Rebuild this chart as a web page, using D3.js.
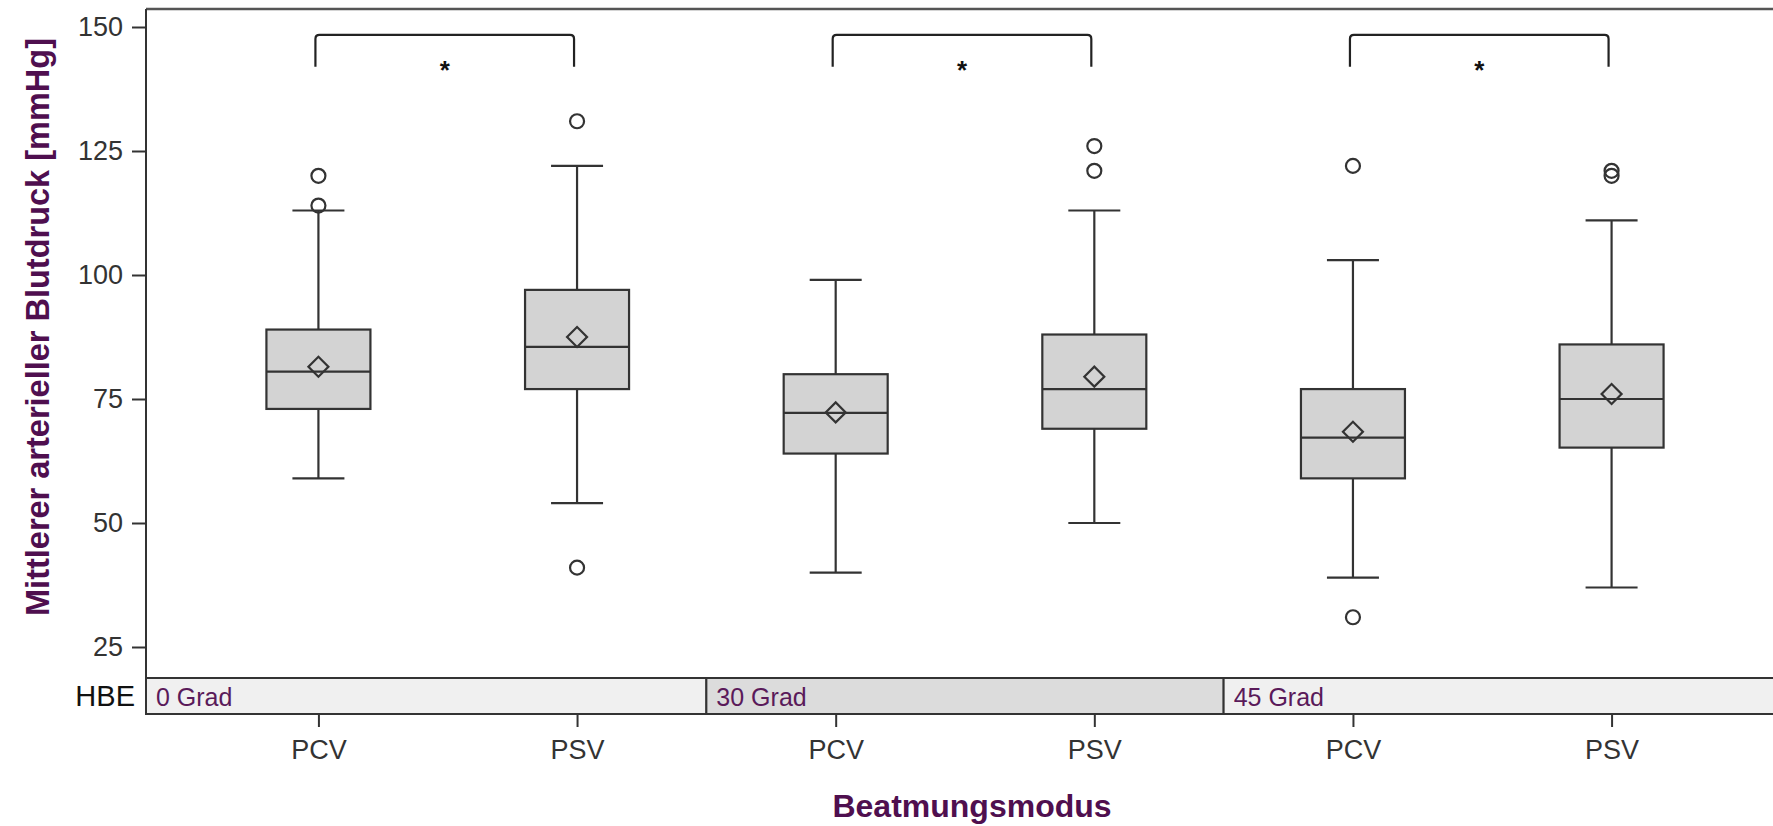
<!DOCTYPE html>
<html>
<head>
<meta charset="utf-8">
<script src="https://cdn.jsdelivr.net/npm/d3@7"></script>
<style>
  body{margin:0;background:#fff;}
  svg{display:block;font-family:"Liberation Sans",Arial,sans-serif;}
</style>
</head>
<body>
<div class="box-chart-container"></div>
<script>
//Data
const categories = ['PCV0','PSV0','PCV30','PSV30','PCV45','PSV45'];
const modeLabels = ['PCV','PSV','PCV','PSV','PCV','PSV'];
const hbeGroups = ['0 Grad','30 Grad','45 Grad'];
const hbeOfCategory = ['0 Grad','0 Grad','30 Grad','30 Grad','45 Grad','45 Grad'];
const whiskerLow  = [59, 54, 40, 50, 39, 37];
const q1          = [73, 77, 64, 69, 59, 65.2];
const median      = [80.5, 85.5, 72.2, 77, 67.2, 75];
const q3          = [89, 97, 80, 88, 77, 86];
const whiskerHigh = [113, 122, 99, 113, 103, 111];
const means       = [81.5, 87.5, 72.3, 79.5, 68.4, 76];
const outliers    = [[120,114],[131,41],[],[126,121],[122,31],[121,120]];
const yTicks      = [25, 50, 75, 100, 125, 150];
// significance brackets between PCV and PSV of each HBE group
const brackets    = [['PCV0','PSV0'],['PCV30','PSV30'],['PCV45','PSV45']];
const bracketTop = 148.4, bracketLeg = 142, starValue = 142.3;

function setupCanvas(){
  const svg_width = 1773;
  const svg_height = 826;
  const plot = {left:146, right:1784, top:9, bottom:678};
  const strip = {top:678, bottom:714};
  const purple = '#4f0f4f';
  const ink = '#333';

  const svg = d3.select('.box-chart-container').append('svg')
    .attr('width', svg_width).attr('height', svg_height);

  const xScale = d3.scalePoint().domain(categories)
    .range([plot.left, plot.right]).padding(2/3);
  const yScale = d3.scaleLinear().domain([25,150]).range([647,27]);
  const boxW = 104, capW = 52;

  // HBE strip
  const groupEdges = hbeGroups.map(g => {
    const cs = categories.filter((c,i) => hbeOfCategory[i] == g);
    const step = xScale.step();
    return {g, x0: xScale(cs[0]) - step/2, x1: xScale(cs[cs.length-1]) + step/2};
  });
  groupEdges[0].x0 = plot.left;
  groupEdges[groupEdges.length-1].x1 = plot.right;

  svg.selectAll('.strip').data(groupEdges).enter().append('rect')
    .attr('class','strip')
    .attr('x', d => d.x0).attr('y', strip.top)
    .attr('width', d => d.x1 - d.x0).attr('height', strip.bottom - strip.top)
    .style('fill', (d,i) => i == 1 ? '#dcdcdc' : '#f0f0f0')
    .style('stroke', ink).style('stroke-width', 2);
  svg.selectAll('.strip-label').data(groupEdges).enter().append('text')
    .attr('class','strip-label')
    .attr('x', d => d.x0 + 10).attr('y', strip.bottom - 8)
    .text(d => d.g)
    .style('font-size','25px').style('fill','#5a1a5a');
  svg.append('text').attr('x', 135).attr('y', strip.bottom - 8)
    .attr('text-anchor','end').text('HBE')
    .style('font-size','29px').style('fill','#111');

  // frame
  svg.append('line').attr('x1', plot.left).attr('x2', plot.right)
    .attr('y1', plot.top).attr('y2', plot.top)
    .style('stroke','#555').style('stroke-width',2.5);
  svg.append('line').attr('x1', plot.left).attr('x2', plot.left)
    .attr('y1', plot.top).attr('y2', strip.bottom)
    .style('stroke',ink).style('stroke-width',2);

  // y axis
  const yAxis = d3.axisLeft(yScale).tickValues(yTicks).tickSize(14).tickPadding(9);
  const yAxisDraw = svg.append('g').attr('class','yaxis')
    .attr('transform',`translate(${plot.left},0)`).call(yAxis);
  yAxisDraw.select('.domain').remove();
  yAxisDraw.selectAll('line').style('stroke',ink).style('stroke-width',2);
  yAxisDraw.selectAll('text').style('font-size','27px').style('fill',ink)
    .style('font-family','"Liberation Sans",Arial,sans-serif');

  // x axis below strip
  const xAxis = d3.axisBottom(xScale).tickSize(13).tickPadding(13)
    .tickFormat((d,i) => modeLabels[i]);
  const xAxisDraw = svg.append('g').attr('class','xaxis')
    .attr('transform',`translate(0,${strip.bottom})`).call(xAxis);
  xAxisDraw.select('.domain').remove();
  xAxisDraw.selectAll('line').style('stroke',ink).style('stroke-width',2);
  xAxisDraw.selectAll('text').style('font-size','27px').style('fill',ink)
    .style('font-family','"Liberation Sans",Arial,sans-serif');

  // axis titles
  svg.append('text')
    .attr('transform','translate(49,327) rotate(-90)')
    .attr('text-anchor','middle')
    .text('Mittlerer arterieller Blutdruck [mmHg]')
    .style('font-size','32.5px').style('font-weight','bold').style('fill',purple);
  svg.append('text').attr('x', 972).attr('y', 817)
    .attr('text-anchor','middle').text('Beatmungsmodus')
    .style('font-size','32px').style('font-weight','bold').style('fill',purple);

  // boxes
  const boxData = categories.map((c,i) => ({
    c, lo: whiskerLow[i], q1: q1[i], med: median[i], q3: q3[i],
    hi: whiskerHigh[i], mean: means[i], out: outliers[i]
  }));
  const boxes = svg.selectAll('.box').data(boxData).enter()
    .append('g').attr('class','box')
    .attr('transform', d => `translate(${xScale(d.c)},0)`);

  boxes.append('line').attr('x1',0).attr('x2',0)
    .attr('y1', d => yScale(d.hi)).attr('y2', d => yScale(d.q3));
  boxes.append('line').attr('x1',0).attr('x2',0)
    .attr('y1', d => yScale(d.q1)).attr('y2', d => yScale(d.lo));
  boxes.append('line').attr('x1',-capW/2).attr('x2',capW/2)
    .attr('y1', d => yScale(d.hi)).attr('y2', d => yScale(d.hi));
  boxes.append('line').attr('x1',-capW/2).attr('x2',capW/2)
    .attr('y1', d => yScale(d.lo)).attr('y2', d => yScale(d.lo));
  boxes.append('rect').attr('x',-boxW/2).attr('width',boxW)
    .attr('y', d => yScale(d.q3)).attr('height', d => yScale(d.q1) - yScale(d.q3))
    .style('fill','#d3d3d3');
  boxes.append('line').attr('x1',-boxW/2).attr('x2',boxW/2)
    .attr('y1', d => yScale(d.med)).attr('y2', d => yScale(d.med));
  boxes.append('path')
    .attr('d', d3.symbol(d3.symbolSquare, 200))
    .attr('transform', d => `translate(0,${yScale(d.mean)}) rotate(45)`)
    .style('fill','none');
  boxes.selectAll('.outlier').data(d => d.out).enter()
    .append('circle').attr('class','outlier')
    .attr('cx',0).attr('cy', v => yScale(v)).attr('r',7)
    .style('fill','none');
  boxes.selectAll('line,rect,path,circle')
    .style('stroke',ink).style('stroke-width',2.2);

  // significance brackets
  const br = svg.selectAll('.bracket').data(brackets).enter()
    .append('g').attr('class','bracket');
  br.append('path')
    .attr('d', d => {
      const x0 = xScale(d[0]) - 3, x1 = xScale(d[1]) - 3;
      const yt = yScale(bracketTop), yb = yScale(bracketLeg);
      return `M${x0},${yb} L${x0},${yt+4} Q${x0},${yt} ${x0+4},${yt} L${x1-4},${yt} Q${x1},${yt} ${x1},${yt+4} L${x1},${yb}`;
    })
    .style('fill','none').style('stroke','#222').style('stroke-width',2.2);
  br.append('text')
    .attr('x', d => (xScale(d[0]) + xScale(d[1]))/2 - 3)
    .attr('y', yScale(starValue) + 14)
    .attr('text-anchor','middle').text('*')
    .style('font-size','26px').style('font-weight','bold').style('fill','#111');
}

setupCanvas();
</script>
</body>
</html>
